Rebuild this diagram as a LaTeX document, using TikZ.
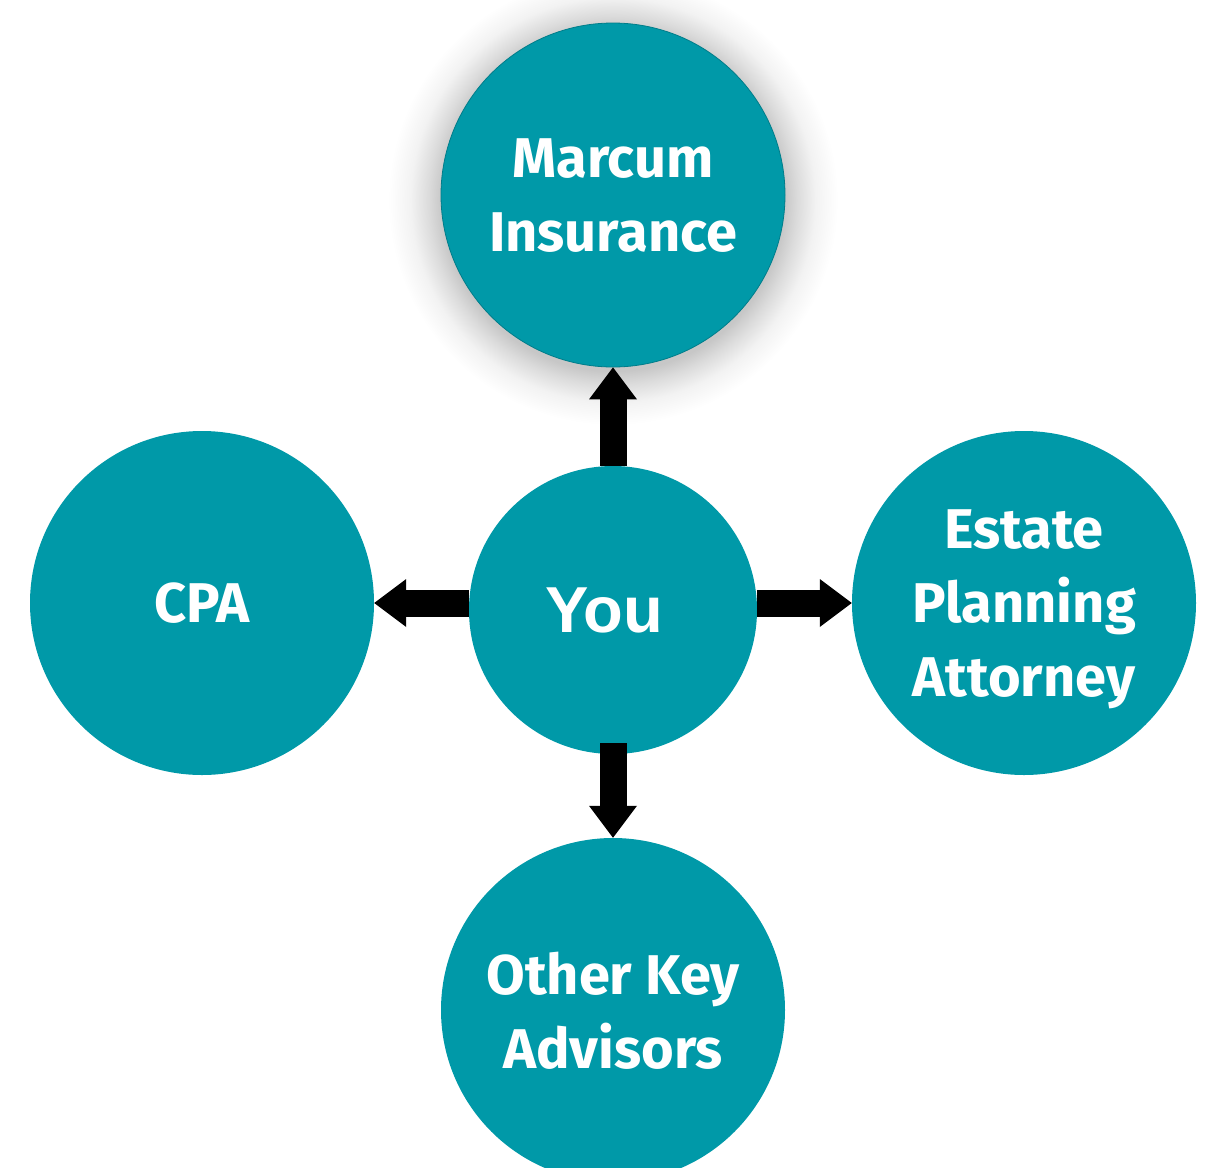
\documentclass[tikz,border=0pt]{standalone}
\usepackage{fontspec}
\setmainfont{Fira Sans}
\newfontfamily\youfont{Liberation Sans}
\usetikzlibrary{arrows.meta}
\definecolor{tealA}{RGB}{0,153,168}
\definecolor{tealB}{RGB}{0,125,138}
\pgfdeclareradialshading{glow}{\pgfpointorigin}{color(0bp)=(black!22); color(19bp)=(black!22); color(20.5bp)=(black!14); color(22.5bp)=(black!5); color(25bp)=(white); color(50bp)=(white)}
\begin{document}
\begin{tikzpicture}[x=1pt,y=-1pt,
  bubble/.style={circle, fill=tealA, minimum size=344pt, inner sep=0pt, text=white,
    font=\bfseries\fontsize{56}{74}\selectfont, align=center, text depth=0pt},
  link/.style={line width=27pt, black, -{Triangle[width=48pt,length=32pt,line width=0pt]}}]
\useasboundingbox (0,0) rectangle (1211,1168);
\fill[white] (0,0) rectangle (1211,1168);
\shade[shading=glow] (613,200) circle[radius=225];
\node[bubble, draw=tealB, line width=0.8pt] (marcum) at (613,195) {Marcum\\Insurance};
\node[bubble] (cpa) at (202,603) {CPA};
\node[bubble] (estate) at (1024,603) {Estate\\Planning\\Attorney};
\node[bubble] (other) at (613,1010) {Other Key\\Advisors};
\node[bubble, minimum size=288pt, font=\youfont\bfseries\fontsize{65}{74}\selectfont] (you) at (613,610) {You\kern18pt};
\draw[link] (you.north) -- (marcum.south);
\draw[link] (you.west |- cpa.east) -- (cpa.east);
\draw[link] (you.east |- estate.west) -- (estate.west);
\draw[link] ([yshift=11pt]you.south) -- (other.north);
\end{tikzpicture}
\end{document}
